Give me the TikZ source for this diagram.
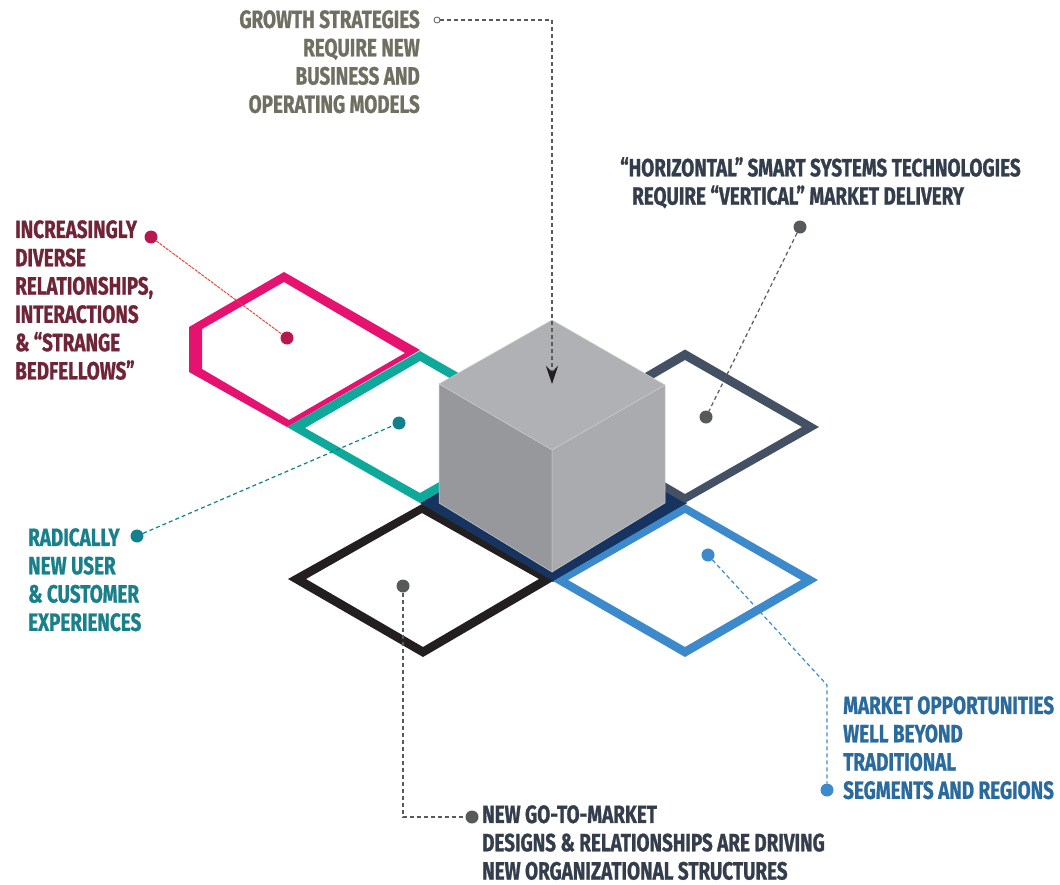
\documentclass[tikz,border=0pt]{standalone}
\usepackage{fontspec}
\usetikzlibrary{arrows.meta}
\newfontfamily\labelfont[FakeStretch=0.755,FakeBold=0.9]{Fira Sans}
\definecolor{pinkband}{HTML}{E6126F}
\definecolor{tealband}{HTML}{0FA99C}
\definecolor{slateband}{HTML}{445164}
\definecolor{blueband}{HTML}{3C8ACB}
\definecolor{blackband}{HTML}{231F20}
\definecolor{navyband}{HTML}{17335F}
\definecolor{olivetext}{HTML}{6F7062}
\definecolor{maroontext}{HTML}{6F2438}
\definecolor{tealtext}{HTML}{19808B}
\definecolor{bluetext}{HTML}{2A6A9D}
\definecolor{darktext}{HTML}{333D4B}
\definecolor{dotgray}{HTML}{58595B}
\definecolor{dotpink}{HTML}{B9184F}
\definecolor{dotteal}{HTML}{13808E}
\definecolor{dotred}{HTML}{EE3A2D}
\definecolor{cubetop}{HTML}{B0B1B4}
\definecolor{cubeleft}{HTML}{97989B}
\definecolor{cuberight}{HTML}{AAABAE}
\definecolor{cubeedge}{HTML}{CACBCD}
\tikzset{
  caption/.style={inner sep=0pt, anchor=north west, align=left, font=\labelfont\bfseries\fontsize{25}{28.3}\selectfont},
  pin/.style={circle, inner sep=0pt, minimum size=13pt, fill=#1},
  leader/.style={line width=1.2pt, dash pattern=on 4pt off 3pt, draw=#1},
  band/.style={fill=#1, even odd rule},
  facet/.style={draw=cubeedge, line width=.5pt, fill=#1}
}
\begin{document}
\begin{tikzpicture}[x=1pt,y=-1pt]
\useasboundingbox (0,0) rectangle (1060,884);
% ground bands
\fill[navyband] (420,503) -- (439,492) -- (665,483) -- (687,503) -- (553,582) -- cycle;
\fill[band=tealband] (287,427) -- (420,351) -- (553,427) -- (420,503) -- cycle (305,428) -- (420,361) -- (535,427) -- (420,493) -- cycle;
\fill[band=slateband] (553,427) -- (685,349.5) -- (819,427) -- (685,503) -- cycle (570,427) -- (685,360) -- (802,427) -- (685,494) -- cycle;
\fill[band=pinkband] (284,272) -- (420,350) -- (287,427) -- (189,372) -- (189,327) -- cycle (284,282) -- (405,353) -- (289,420) -- (202,369) -- (202,329) -- cycle;
\fill[band=blackband] (288,579) -- (422,504) -- (553,581) -- (423,657) -- cycle (306,579) -- (422,513) -- (539,579) -- (423,647) -- cycle;
\fill[navyband] (422,504) -- (553,581) -- (553,572) -- (439,503) -- cycle;
\fill[band=blueband] (553,581) -- (685,504) -- (818,580) -- (685,657) -- cycle (568,580) -- (685,513) -- (801,580) -- (685,647) -- cycle;
\fill[navyband] (553,572) -- (665,503) -- (687,503) -- (685,504) -- (553,581) -- cycle;
% cube
\filldraw[facet=cubetop] (552,320) -- (665,385) -- (552,450) -- (439,384) -- cycle;
\filldraw[facet=cubeleft] (439,384) -- (552,450) -- (552,572) -- (439,503) -- cycle;
\filldraw[facet=cuberight] (552,450) -- (665,385) -- (665,503) -- (552,572) -- cycle;
% captions
\node[caption, anchor=north east, align=right, text=olivetext] (growth) at (420,10) {GROWTH STRATEGIES\\REQUIRE NEW\\BUSINESS AND\\OPERATING MODELS};
\node[caption, text=darktext] (horizontal) at (620,157) {“HORIZONTAL”\,SMART SYSTEMS TECHNOLOGIES\\\hspace*{12pt}REQUIRE “VERTICAL” MARKET DELIVERY};
\node[caption, text=maroontext] (diverse) at (15,220) {INCREASINGLY\\DIVERSE\\RELATIONSHIPS,\\INTERACTIONS\\\&\,“STRANGE\\BEDFELLOWS”};
\node[caption, text=tealtext] (radical) at (28,528) {RADICALLY\\NEW USER\\\& CUSTOMER\\EXPERIENCES};
\node[caption, text=bluetext] (market) at (843,696) {MARKET OPPORTUNITIES\\WELL BEYOND\\TRADITIONAL\\SEGMENTS AND REGIONS};
\node[caption, text=darktext] (gotomarket) at (482,805) {NEW GO-TO-MARKET\\DESIGNS \& RELATIONSHIPS ARE DRIVING\\NEW ORGANIZATIONAL STRUCTURES};
% pins
\node[circle, draw=dotgray, line width=.8pt, fill=white, inner sep=0pt, minimum size=6pt] (growthpin) at (437,20) {};
\coordinate (growthcorner) at (552,20);
\coordinate (cubetip) at (552,384);
\node[pin=dotgray] (horizontalpin) at (800,227) {};
\node[pin=dotgray] (slatepin) at (706,417) {};
\node[pin=dotpink] (diversepin) at (151,237) {};
\node[pin=dotpink] (pinkpin) at (287,338) {};
\node[pin=dotteal] (radicalpin) at (137,536) {};
\node[pin=dotteal] (tealpin) at (399,423) {};
\node[pin=blueband] (marketpin) at (827,790) {};
\node[pin=blueband] (bluepin) at (708,555) {};
\coordinate (marketcorner) at (827,685);
\node[pin=dotgray] (gotomarketpin) at (472,817) {};
\node[pin=dotgray] (blackpin) at (403,586) {};
\coordinate (gotomarketcorner) at (403,817);
% leaders
\draw[leader=dotgray, -{Stealth[length=18pt,width=12pt,inset=6pt,fill=blackband,color=blackband]}] (growthpin) -- (growthcorner) -- (cubetip);
\draw[leader=dotgray] (horizontalpin) -- (slatepin);
\draw[leader=dotred, line width=.9pt, dash pattern=on 3pt off 1pt] (diversepin) -- (pinkpin);
\draw[leader=dotteal] (radicalpin) -- (tealpin);
\draw[leader=blueband] (bluepin) -- (marketcorner) -- (marketpin);
\draw[leader=dotgray] (blackpin) -- (gotomarketcorner) -- (gotomarketpin);
\end{tikzpicture}
\end{document}
